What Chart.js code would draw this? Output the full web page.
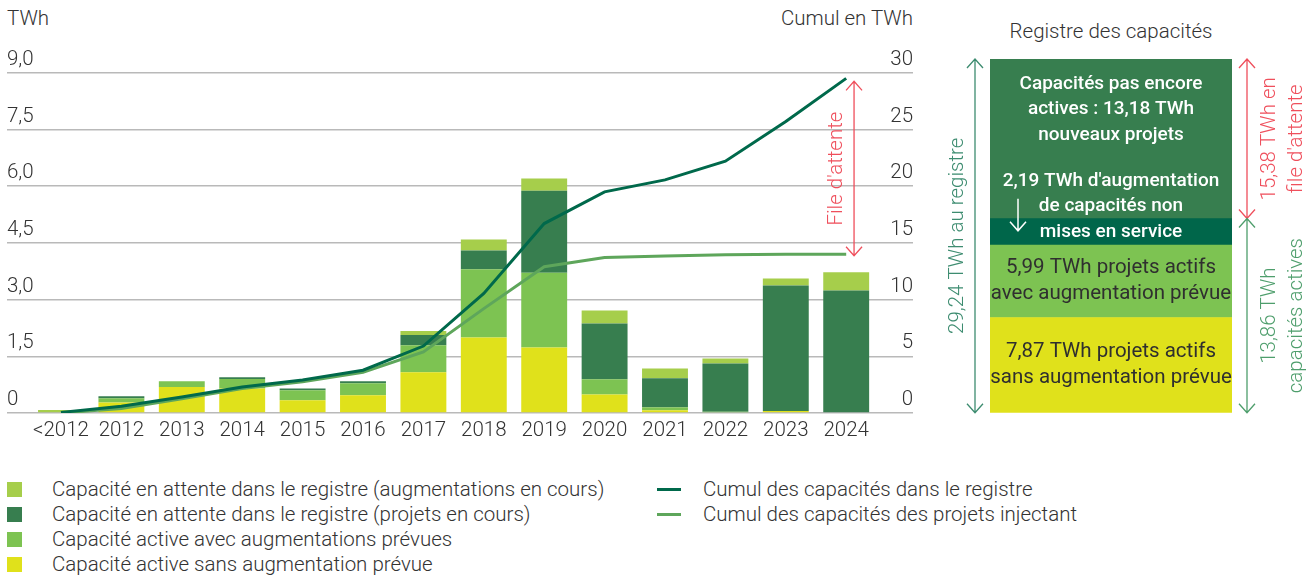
<!DOCTYPE html>
<html lang="fr">
<head>
<meta charset="utf-8">
<script src="https://cdn.jsdelivr.net/npm/chart.js@4/dist/chart.umd.min.js"></script>
<style>
  body { margin: 0; background: #fff; font-family: Roboto, sans-serif; color: #333; }
  #page { position: relative; width: 1316px; height: 576px; overflow: hidden; }
  .box { position: absolute; }
  .unit { position: absolute; top: 6px; font-size: 20.5px; font-weight: 300; line-height: 24px; }
  .legend-item { position: absolute; font-size: 20.5px; font-weight: 300; line-height: 25px; height: 25px; white-space: nowrap; }
  .swatch { position: absolute; left: 0; top: 5px; width: 15px; height: 15px; }
  .dash { position: absolute; left: 0; top: 11px; width: 24px; height: 3px; }
</style>
</head>
<body>
<div id="page">
  <div class="unit" style="left:7px;">TWh</div>
  <div class="unit" style="left:713px;width:200px;text-align:right;">Cumul en TWh</div>
  <div class="unit" style="left:970px;width:282px;text-align:center;top:19px;">Registre des capacités</div>
  <div class="box" style="left:0;top:0;width:940px;height:448px;"><canvas id="main"></canvas></div>
  <div class="box" style="left:940px;top:0;width:376px;height:460px;"><canvas id="registre"></canvas></div>
  <div id="legend"></div>
</div>
<script>
// categories
const categories = ['<2012', '2012', '2013', '2014', '2015', '2016', '2017', '2018', '2019', '2020', '2021', '2022', '2023', '2024'];

// yearly capacity, TWh (left axis)
const activeSans = [0, 0.28, 0.69, 0.645, 0.34, 0.47, 1.08, 2.00, 1.73, 0.49, 0.07, 0, 0.05, 0];
const activeAvec = [0, 0.11, 0.15, 0.255, 0.26, 0.32, 0.71, 1.80, 1.98, 0.40, 0.08, 0.03, 0, 0];
const attenteProjets = [0, 0.05, 0, 0.045, 0.05, 0.05, 0.27, 0.50, 2.17, 1.48, 0.77, 1.28, 3.32, 3.24];
const attenteAugment = [0.08, 0, 0, 0, 0, 0, 0.11, 0.29, 0.32, 0.34, 0.26, 0.13, 0.19, 0.48];

// cumulative, TWh (right axis)
const cumulRegistre = [0.05, 0.59, 1.41, 2.3, 2.9, 3.77, 5.9, 10.54, 16.7, 19.5, 20.55, 22.2, 25.7, 29.5];
const cumulInjectant = [0, 0.4, 1.25, 2.15, 2.75, 3.59, 5.38, 9.2, 12.9, 13.7, 13.83, 13.95, 14.0, 14.0];

// register panel
const panelSans = [7.87];
const panelAvec = [5.99];
const panelAugment = [2.19];
const panelNouveaux = [13.18];
const registreTotal = 29.24;
const actifsTotal = 13.86;

const COL = {
  augment: '#A6CE4B',
  projets: '#377E4F',
  avec: '#7DC352',
  sans: '#E0E11B',
  lineDark: '#00694B',
  lineLight: '#5EA65B',
  teal: '#00664A',
  red: '#EF4F5C',
  regGreen: '#3D8C70',
  actGreen: '#4E9E6C'
};

const barNames = [
  'Capacité en attente dans le registre (augmentations en cours)',
  'Capacité en attente dans le registre (projets en cours)',
  'Capacité active avec augmentations prévues',
  'Capacité active sans augmentation prévue'
];
const lineNames = ['Cumul des capacités dans le registre', 'Cumul des capacités des projets injectant'];

Chart.defaults.font.family = 'Roboto, sans-serif';
Chart.defaults.color = '#333';

const pts = arr => arr.map((v, i) => ({ x: i, y: v }));
const tickFont = { size: 20.5, weight: '300' };

function arrow(ctx, x, y1, y2, color, w) {
  ctx.save();
  ctx.strokeStyle = color;
  ctx.lineWidth = w || 1.3;
  ctx.beginPath();
  ctx.moveTo(x, y1); ctx.lineTo(x, y2);
  ctx.moveTo(x - 8, y1 + 9); ctx.lineTo(x, y1); ctx.lineTo(x + 8, y1 + 9);
  ctx.moveTo(x - 8, y2 - 9); ctx.lineTo(x, y2); ctx.lineTo(x + 8, y2 - 9);
  ctx.stroke();
  ctx.restore();
}

function vText(ctx, lines, x, y, color, gap) {
  ctx.save();
  ctx.translate(x, y);
  ctx.rotate(-Math.PI / 2);
  ctx.fillStyle = color;
  ctx.textAlign = 'center';
  ctx.textBaseline = 'middle';
  lines.forEach((t, i) => ctx.fillText(t, 0, (i - (lines.length - 1) / 2) * gap));
  ctx.restore();
}

// "File d'attente" arrow on main chart
const fileAttente = {
  id: 'fileAttente',
  afterDatasetsDraw(chart) {
    const { ctx, scales: { x, y2 } } = chart;
    const px = x.getPixelForValue(13.13);
    const top = y2.getPixelForValue(registreTotal);
    const bot = y2.getPixelForValue(actifsTotal);
    arrow(ctx, px, top, bot, COL.red);
    ctx.font = '300 20.5px Roboto, sans-serif';
    vText(ctx, ["File d'attente"], px - 17, (top + bot) / 2, COL.red, 0);
  }
};

new Chart(document.getElementById('main'), {
  type: 'bar',
  data: {
    datasets: [
      { type: 'line', label: lineNames[0], data: pts(cumulRegistre), yAxisID: 'y2', borderColor: COL.lineDark, borderWidth: 3, pointRadius: 0, tension: 0, order: 0 },
      { type: 'line', label: lineNames[1], data: pts(cumulInjectant), yAxisID: 'y2', borderColor: COL.lineLight, borderWidth: 3, pointRadius: 0, tension: 0, order: 0 },
      { label: barNames[3], data: pts(activeSans), backgroundColor: COL.sans, order: 1 },
      { label: barNames[2], data: pts(activeAvec), backgroundColor: COL.avec, order: 1 },
      { label: barNames[1], data: pts(attenteProjets), backgroundColor: COL.projets, order: 1 },
      { label: barNames[0], data: pts(attenteAugment), backgroundColor: COL.augment, order: 1 }
    ]
  },
  options: {
    responsive: true,
    maintainAspectRatio: false,
    animation: false,
    barPercentage: 1,
    categoryPercentage: 0.76,
    layout: { padding: { top: 72.7, left: 7, right: 27, bottom: 0 } },
    plugins: { legend: { display: false }, tooltip: { enabled: false } },
    scales: {
      x: {
        type: 'linear',
        stacked: true,
        offset: false,
        min: -0.894,
        max: 14.106,
        afterBuildTicks: s => { s.ticks = categories.map((_, i) => ({ value: i })); },
        afterFit: s => { s.height = 35; },
        grid: { display: false, drawTicks: false },
        border: { display: false },
        ticks: { padding: 6, autoSkip: false, maxRotation: 0, callback: v => categories[v], font: tickFont, color: '#333' }
      },
      y: {
        position: 'left',
        stacked: true,
        min: 0,
        max: 9,
        afterFit: s => { s.width = 0; },
        grid: { color: '#b9b9b9', lineWidth: 1.5, drawTicks: false },
        border: { display: false },
        ticks: { stepSize: 1.5, mirror: true, padding: 0, labelOffset: -13, font: tickFont, color: '#333', callback: v => v === 0 ? '0' : v.toFixed(1).replace('.', ',') }
      },
      y2: {
        position: 'right',
        min: 0,
        max: 30,
        afterFit: s => { s.width = 0; },
        grid: { display: false, drawTicks: false },
        border: { display: false },
        ticks: { stepSize: 5, mirror: true, padding: 0, labelOffset: -13, font: tickFont, color: '#333' }
      }
    }
  },
  plugins: [fileAttente]
});

// register panel annotations
const registreNotes = {
  id: 'registreNotes',
  afterDatasetsDraw(chart) {
    const { ctx, chartArea: a, scales: { y } } = chart;
    const cx = (a.left + a.right) / 2;
    const yTop = y.getPixelForValue(registreTotal);
    const yActif = y.getPixelForValue(panelSans[0] + panelAvec[0]);
    const yAug = y.getPixelForValue(panelSans[0] + panelAvec[0] + panelAugment[0]);
    const ySans = y.getPixelForValue(panelSans[0]);
    const y0 = y.getPixelForValue(0);

    ctx.save();
    ctx.textAlign = 'center';
    ctx.textBaseline = 'middle';
    ctx.fillStyle = '#fff';
    ctx.font = '500 19px Roboto, sans-serif';
    ['Capacités pas encore', 'actives : 13,18 TWh', 'nouveaux projets'].forEach((t, i) => ctx.fillText(t, cx, yTop + 25 + i * 25.5));
    const augMid = (yAug + yActif) / 2;
    ['2,19 TWh d\'augmentation', 'de capacités non', 'mises en service'].forEach((t, i) => ctx.fillText(t, cx, augMid - (2 - i) * 25.5));
    ctx.fillStyle = '#2f2f2f';
    ctx.font = '400 20.5px Roboto, sans-serif';
    const avecMid = (yActif + ySans) / 2;
    ['5,99 TWh projets actifs', 'avec augmentation prévue'].forEach((t, i) => ctx.fillText(t, cx, avecMid - 13 + i * 26));
    const sansMid = (ySans + y0) / 2;
    ['7,87 TWh projets actifs', 'sans augmentation prévue'].forEach((t, i) => ctx.fillText(t, cx, sansMid - 13 + i * 26));
    ctx.restore();

    // small white arrow pointing to the teal band
    ctx.save();
    ctx.strokeStyle = '#fff';
    ctx.lineWidth = 1.5;
    const ax = a.left + 28;
    ctx.beginPath();
    ctx.moveTo(ax, augMid - 33); ctx.lineTo(ax, augMid - 1);
    ctx.moveTo(ax - 8, augMid - 10); ctx.lineTo(ax, augMid - 1); ctx.lineTo(ax + 8, augMid - 10);
    ctx.stroke();
    ctx.restore();

    // side arrows and labels
    arrow(ctx, a.left - 15, yTop, y0, COL.regGreen);
    arrow(ctx, a.right + 15, yTop, yAug, COL.red);
    arrow(ctx, a.right + 15, yAug, y0, COL.actGreen);
    ctx.font = '300 20.5px Roboto, sans-serif';
    vText(ctx, ['29,24 TWh au registre'], a.left - 32, (yTop + y0) / 2, COL.regGreen, 0);
    vText(ctx, ['15,38 TWh en', "file d'attente"], a.right + 51, (yTop + yAug) / 2, COL.red, 27);
    vText(ctx, ['13,86 TWh', 'capacités actives'], a.right + 51, (yAug + y0) / 2, COL.actGreen, 27);
  }
};

new Chart(document.getElementById('registre'), {
  type: 'bar',
  data: {
    labels: ['Registre'],
    datasets: [
      { data: panelSans, backgroundColor: COL.sans },
      { data: panelAvec, backgroundColor: COL.avec },
      { data: panelAugment, backgroundColor: COL.teal },
      { data: panelNouveaux, backgroundColor: COL.projets }
    ]
  },
  options: {
    responsive: true,
    maintainAspectRatio: false,
    animation: false,
    barPercentage: 1,
    categoryPercentage: 1,
    layout: { padding: { top: 59, left: 50, right: 84, bottom: 47.3 } },
    plugins: { legend: { display: false }, tooltip: { enabled: false } },
    scales: {
      x: { stacked: true, display: false },
      y: { stacked: true, display: false, min: 0, max: registreTotal }
    }
  },
  plugins: [registreNotes]
});

// legend
const legend = document.getElementById('legend');
const barColors = [COL.augment, COL.projets, COL.avec, COL.sans];
barNames.forEach((name, i) => {
  legend.insertAdjacentHTML('beforeend',
    `<div class="legend-item" style="left:7px;top:${477 + i * 25}px;padding-left:45px;">
       <span class="swatch" style="background:${barColors[i]};"></span>${name}
     </div>`);
});
const lineColors = [COL.lineDark, COL.lineLight];
lineNames.forEach((name, i) => {
  legend.insertAdjacentHTML('beforeend',
    `<div class="legend-item" style="left:657px;top:${477 + i * 25}px;padding-left:46px;">
       <span class="dash" style="background:${lineColors[i]};"></span>${name}
     </div>`);
});
</script>
</body>
</html>
